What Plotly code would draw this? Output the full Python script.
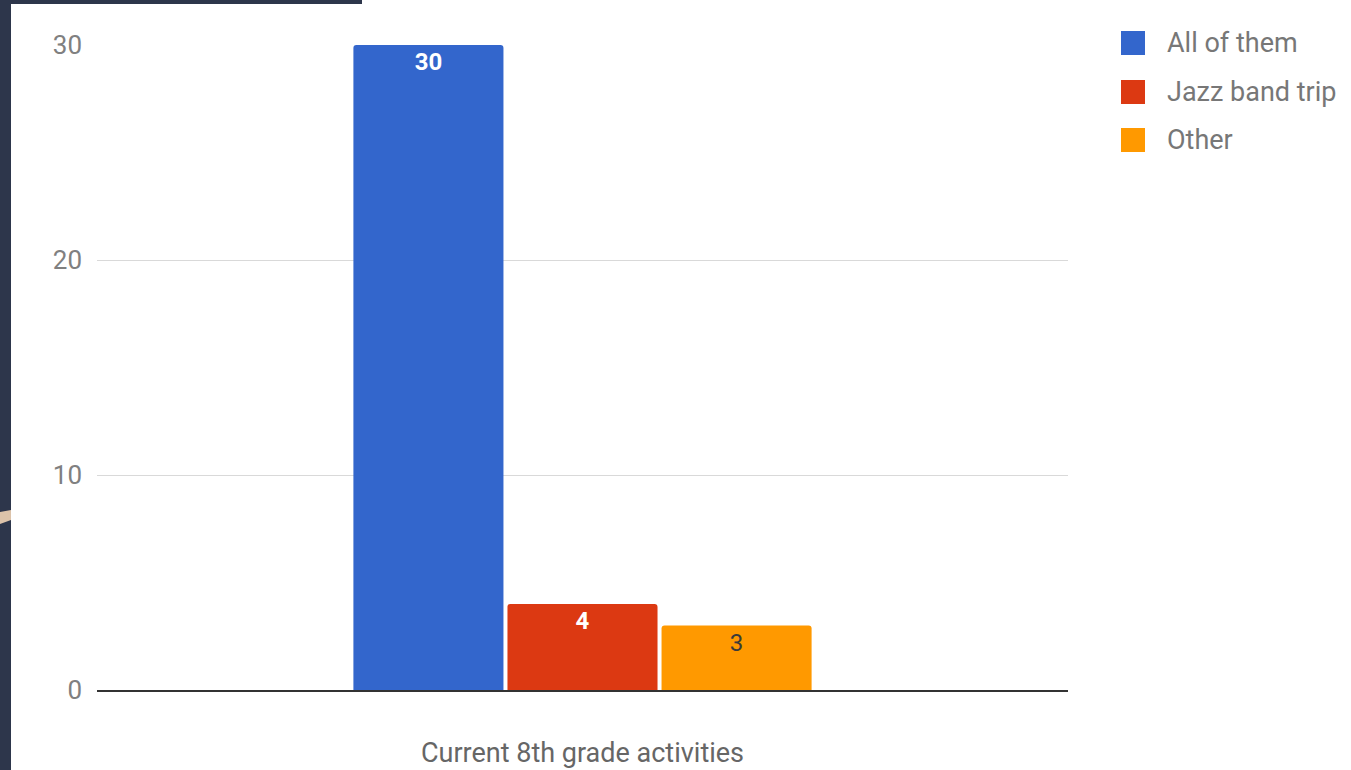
import plotly.graph_objects as go

category = ["Current 8th grade activities"]
series_names = ["All of them", "Jazz band trip", "Other"]
series_values = [30, 4, 3]
series_colors = ["#3366cc", "#dc3912", "#ff9900"]
label_colors = ["#ffffff", "#ffffff", "#3a3a3a"]
label_weights = ["bold", "bold", "normal"]
y_ticks = [0, 10, 20, 30]

W, H = 1351, 770
L, R, T, B = 97, 1068, 45, 690


def px(x):
    return (x - L) / (R - L)


def py(y):
    return (B - y) / (B - T)


fig = go.Figure()
for name, val, col, lc, lw in zip(series_names, series_values, series_colors, label_colors, label_weights):
    fig.add_trace(go.Bar(
        x=category, y=[val], name=name,
        marker=dict(color=col, cornerradius=3, line=dict(width=0)),
        text=[str(val)], textposition="inside", insidetextanchor="end",
        textfont=dict(family="Roboto", size=24, color=lc, weight=lw),
        textangle=0, showlegend=False,
    ))

shapes = [
    # dark slide background strips
    dict(type="rect", xref="paper", yref="paper", x0=px(0), x1=px(11), y0=py(770), y1=py(0),
         fillcolor="#2d364b", line=dict(width=0), layer="above"),
    dict(type="rect", xref="paper", yref="paper", x0=px(0), x1=px(362), y0=py(4), y1=py(0),
         fillcolor="#2d364b", line=dict(width=0), layer="above"),
    dict(type="path", xref="paper", yref="paper",
         path=f"M {px(0)} {py(512)} L {px(11)} {py(510)} L {px(11)} {py(520)} L {px(0)} {py(524)} Z",
         fillcolor="#dcc3aa", line=dict(width=0), layer="above"),
]
annotations = []
legend_y = [43, 92, 140]
for name, col, yc in zip(series_names, series_colors, legend_y):
    shapes.append(dict(type="rect", xref="paper", yref="paper",
                       x0=px(1121), x1=px(1145), y0=py(yc + 12), y1=py(yc - 12),
                       fillcolor=col, line=dict(width=0)))
    annotations.append(dict(xref="paper", yref="paper", x=px(1165), y=py(yc),
                            xanchor="left", yanchor="middle", showarrow=False, text=name,
                            font=dict(family="Roboto", size=27, color="#777777")))

fig.update_layout(
    width=W, height=H,
    margin=dict(l=L, r=W - R, t=T, b=H - B, pad=0),
    paper_bgcolor="white", plot_bgcolor="white",
    barmode="group", bargap=0.524, bargroupgap=0.026,
    showlegend=False,
    font=dict(family="Roboto", color="#666666"),
    shapes=shapes, annotations=annotations,
    xaxis=dict(showgrid=False, showline=True, linecolor="#333333", linewidth=1.5,
               ticks="", ticklabelstandoff=38, automargin=False,
               tickfont=dict(family="Roboto", size=27, color="#666666")),
    yaxis=dict(range=[0, 30], tickvals=y_ticks, showgrid=True, gridcolor="#d9d9d9", gridwidth=1,
               zeroline=False, showline=False, ticks="", ticklabelstandoff=14, automargin=False,
               tickfont=dict(family="Roboto", size=26, color="#808080")),
)

fig.write_html("out.html", config={"displayModeBar": False},
               post_script="document.body.style.margin='0px';")
